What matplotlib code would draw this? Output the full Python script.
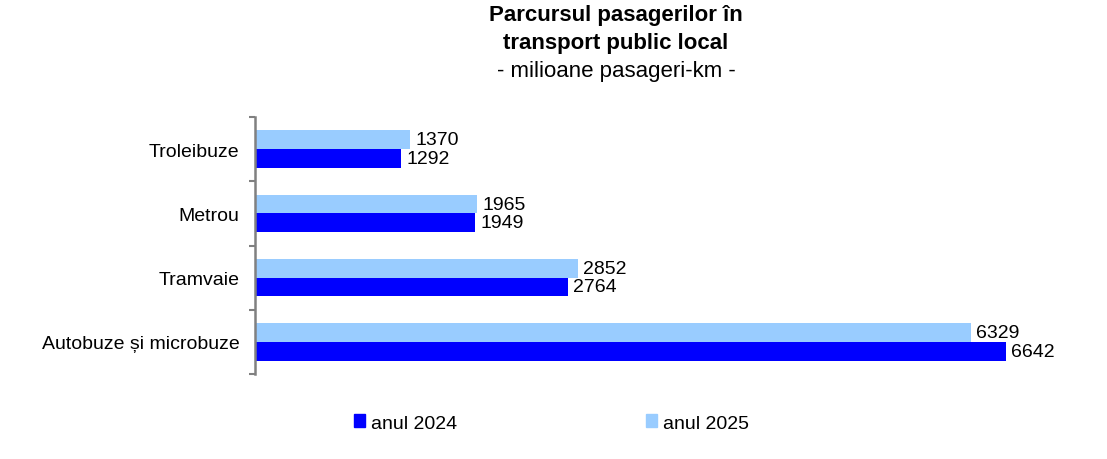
import matplotlib
matplotlib.use('Agg')
import matplotlib.pyplot as plt
from matplotlib.patches import Patch
import numpy as np

categories = ['Troleibuze', 'Metrou', 'Tramvaie', 'Autobuze și microbuze']
values_2024 = [1292, 1949, 2764, 6642]
values_2025 = [1370, 1965, 2852, 6329]
series_names = ['anul 2024', 'anul 2025']

DARK = '#0000FF'
LIGHT = '#99CCFF'

plt.rcParams['font.family'] = ['Liberation Sans', 'DejaVu Sans']

fig = plt.figure(figsize=(11.07, 4.6), dpi=100)
ax = fig.add_axes([255 / 1107, 1 - 375 / 460, 830 / 1107, 257 / 460])

y = np.arange(len(categories))
h = 0.29
ax.barh(y - h / 2, values_2025, height=h, color=LIGHT, label=series_names[1])
ax.barh(y + h / 2, values_2024, height=h, color=DARK, label=series_names[0])

# value labels next to the bars
for yi, v in zip(y, values_2025):
    ax.text(v + 45, yi - h / 2, str(v), va='center', ha='left', fontsize=14)
for yi, v in zip(y, values_2024):
    ax.text(v + 45, yi + h / 2, str(v), va='center', ha='left', fontsize=14)

ax.set_xlim(0, 7340)
ax.set_ylim(len(categories) - 0.5, -0.5)
ax.set_yticks(y)
ax.set_yticklabels(categories, fontsize=14)
ax.set_yticks(np.arange(len(categories) + 1) - 0.5, minor=True)
ax.tick_params(axis='y', which='major', length=0, pad=11)
ax.tick_params(axis='y', which='minor', length=4, width=1.5, color='#808080')
ax.set_xticks([])
for side in ['top', 'right', 'bottom']:
    ax.spines[side].set_visible(False)
ax.spines['left'].set_color('#808080')
ax.spines['left'].set_linewidth(1.8)

cx = 616 / 1107
fig.text(cx, 1 - 16 / 460, 'Parcursul pasagerilor în', ha='center', va='center',
         fontsize=16, fontweight='bold')
fig.text(cx, 1 - 43 / 460, 'transport public local', ha='center', va='center',
         fontsize=16, fontweight='bold')
fig.text(cx, 1 - 72 / 460, '- milioane pasageri-km -', ha='center', va='center', fontsize=16)

handles = [Patch(color=DARK), Patch(color=LIGHT)]
fig.legend(handles, series_names, loc='center left', bbox_to_anchor=(336 / 1107, 1 - 424 / 460),
           ncol=2, frameon=False, fontsize=14, handlelength=0.6, handleheight=0.6,
           handletextpad=0.3, columnspacing=9.7)

fig.savefig('out.png', dpi=100)
